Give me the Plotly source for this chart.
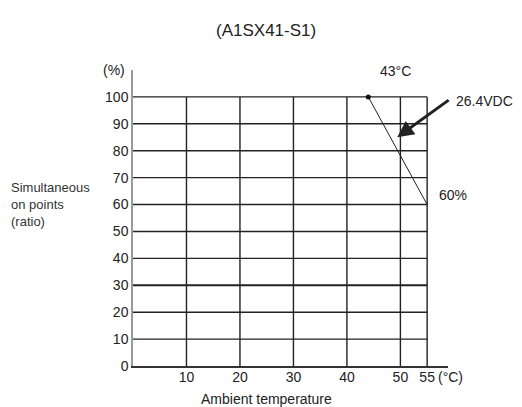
import plotly.graph_objects as go

# Data
temps = [44, 55]            # ambient temperature (°C)
ratio = [100, 60]           # simultaneous on points (%)
x_ticks = [10, 20, 30, 40, 50, 55]
x_tick_labels = ["10", "20", "30", "40", "50", "55"]
y_ticks = [0, 10, 20, 30, 40, 50, 60, 70, 80, 90, 100]
y_tick_labels = [str(v) for v in y_ticks]
x_max_grid = 55
y_max_grid = 100

FONT = "Liberation Sans, Arial, sans-serif"
fig = go.Figure()

shapes = []
for yv in y_ticks[1:]:
    shapes.append(dict(type="line", xref="x", yref="y", x0=0, x1=x_max_grid, y0=yv, y1=yv,
                       line=dict(color="#222222", width=2.2 if yv == 30 else 1.4), layer="below"))
for xv in x_ticks:
    shapes.append(dict(type="line", xref="x", yref="y", x0=xv, x1=xv, y0=0, y1=y_max_grid,
                       line=dict(color="#222222", width=1.4), layer="below"))

fig.add_trace(go.Scatter(x=temps, y=ratio, mode="lines", line=dict(color="#222222", width=1),
                         showlegend=False, hoverinfo="skip"))
fig.add_trace(go.Scatter(x=temps[:1], y=ratio[:1], mode="markers",
                         marker=dict(color="#111111", size=5), showlegend=False, hoverinfo="skip"))

annotations = [
    dict(text="(A1SX41-S1)", xref="paper", yref="paper", x=0.422, y=1.135, showarrow=False,
         font=dict(size=17, color="#222"), xanchor="center", yanchor="middle"),
    dict(text="(%)", xref="paper", yref="y", x=-0.02, y=110, showarrow=False,
         font=dict(size=14, color="#222"), xanchor="right", yanchor="middle"),
    dict(text="43°C", xref="x", yref="y", x=49, y=109.5, showarrow=False,
         font=dict(size=14, color="#222"), xanchor="center", yanchor="middle"),
    dict(text="26.4VDC", xref="paper", yref="y", x=1.02, y=98.3, showarrow=False,
         font=dict(size=14, color="#222"), xanchor="left", yanchor="middle"),
    dict(text="60%", xref="x", yref="y", x=56.9, y=63.6, showarrow=False,
         font=dict(size=14, color="#222"), xanchor="left", yanchor="middle"),
    dict(text="(°C)", xref="x", yref="paper", x=55, y=0, xshift=9, yshift=-11, showarrow=False,
         font=dict(size=14, color="#222"), xanchor="left", yanchor="middle"),
    dict(text="Simultaneous<br>on points<br>(ratio)", xref="paper", yref="paper", x=-0.395, y=0.544,
         showarrow=False, align="left", font=dict(size=13, color="#333"),
         xanchor="left", yanchor="middle"),
    dict(text="Ambient temperature", xref="paper", yref="paper", x=0.425, y=0, yshift=-33,
         showarrow=False, font=dict(size=14, color="#222"), xanchor="center", yanchor="middle"),
    dict(x=49.4, y=85.0, ax=59.3, ay=99.2, xref="x", yref="y", axref="x", ayref="y",
         text="", showarrow=True, arrowhead=2, arrowsize=1.1, arrowwidth=3, arrowcolor="#222"),
]

fig.update_layout(
    width=522, height=407,
    margin=dict(l=133, r=74, t=70, b=41),
    paper_bgcolor="white", plot_bgcolor="white",
    font=dict(family=FONT, size=14, color="#222"),
    shapes=shapes, annotations=annotations,
    xaxis=dict(range=[0, 58.9], tickvals=x_ticks, ticktext=x_tick_labels, showgrid=False,
               zeroline=False, showline=True, linecolor="#333", linewidth=1.5, ticks="",
               ticklabelstandoff=-3,
               tickfont=dict(size=14, color="#222"), fixedrange=True),
    yaxis=dict(range=[0, 110], tickvals=y_ticks, ticktext=y_tick_labels, showgrid=False,
               zeroline=False, showline=True, linecolor="#999", linewidth=1.5, ticks="",
               tickfont=dict(size=14, color="#222"), fixedrange=True),
)

fig.write_html("out.html", config={"displayModeBar": False},
               post_script="document.body.style.margin='0';")
